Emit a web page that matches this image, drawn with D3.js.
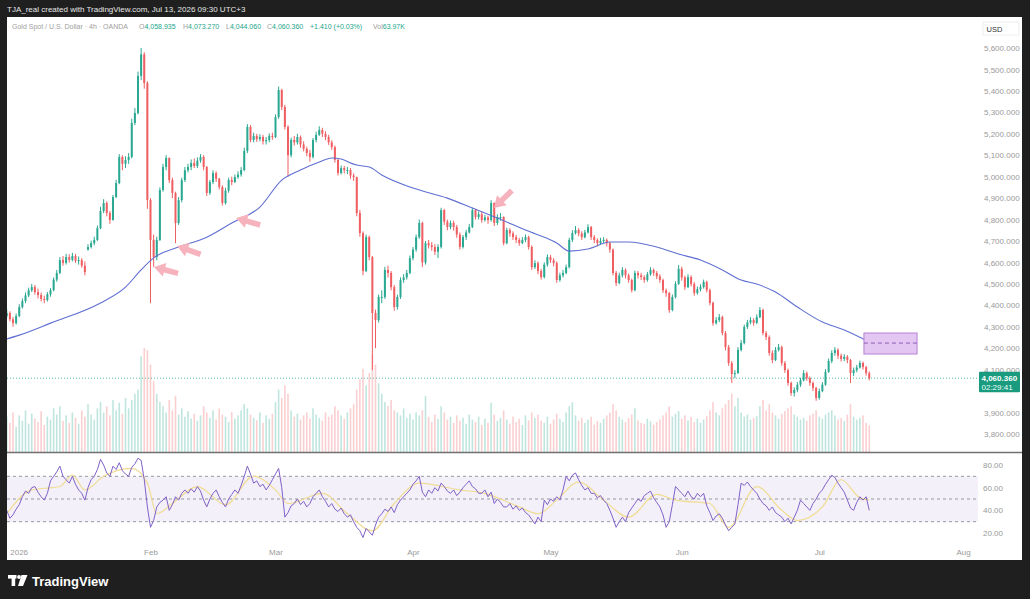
<!DOCTYPE html>
<html><head><meta charset="utf-8">
<script src="https://cdn.jsdelivr.net/npm/d3@7"></script>
<style>
html,body{margin:0;padding:0;background:#1f1f1f;}
svg{display:block;font-family:"Liberation Sans",Arial,sans-serif;}
</style></head><body>
<svg id="c" width="1030" height="599"></svg>
<script>
// ---- DATA (12h bars, bar 0 = Dec 31 2025) ----
const opens=[
4350,4364,4335,4317,4350,4392,4420,4446,4470,4485,
4462,4448,4430,4425,4452,4471,4520,4551,4611,4598,
4625,4612,4630,4608,4611,4585,4660,4672,4690,4705,
4760,4840,4877,4830,4798,4905,4970,5092,5060,5078,
5092,5250,5297,5470,5570,5437,4891,4705,4625,4705,
4938,5045,5087,4984,4924,4784,4891,4984,5030,5045,
5064,5050,5075,5092,5045,4924,4975,5017,4990,4952,
4877,4935,4984,4975,4998,5010,5031,5120,5232,5171,
5190,5175,5185,5165,5171,5190,5185,5278,5404,5325,
5232,5100,5171,5160,5185,5150,5130,5110,5092,5171,
5195,5218,5200,5185,5160,5138,5078,5017,5040,5031,
5031,5005,4998,4830,4737,4560,4718,4625,4364,4331,
4439,4439,4565,4551,4485,4392,4439,4518,4530,4551,
4620,4660,4718,4784,4600,4690,4680,4672,4650,4672,
4844,4790,4765,4784,4765,4730,4672,4718,4740,4765,
4844,4812,4825,4798,4810,4798,4877,4784,4812,4812,
4690,4751,4735,4718,4705,4690,4705,4718,4672,4578,
4597,4560,4532,4590,4625,4610,4597,4518,4540,4551,
4578,4705,4737,4751,4735,4718,4740,4765,4718,4705,
4690,4700,4705,4690,4660,4551,4504,4540,4565,4540,
4518,4471,4551,4540,4532,4518,4545,4565,4551,4535,
4518,4470,4457,4378,4439,4500,4570,4530,4485,4532,
4500,4457,4475,4485,4509,4471,4411,4317,4331,4345,
4271,4205,4131,4080,4084,4192,4224,4299,4320,4331,
4318,4345,4378,4271,4252,4178,4145,4192,4205,4131,
4098,4038,3991,4005,4030,4050,4084,4060,4038,4015,
3968,4000,4030,4090,4140,4178,4192,4165,4150,4160,
4145,4084,4098,4110,4131,4112,4084];
const highs=[
4380,4372,4345,4362,4405,4432,4460,4482,4500,4495,
4478,4460,4445,4462,4480,4530,4565,4625,4630,4640,
4638,4645,4640,4628,4620,4605,4685,4702,4720,4772,
4860,4895,4885,4840,4915,4985,5105,5100,5095,5110,
5270,5320,5490,5600,5580,5445,4900,4730,4720,4950,
5060,5100,5090,4995,4930,4905,4995,5045,5060,5080,
5085,5090,5105,5100,5050,4985,5030,5025,4995,4960,
4948,4995,5000,5010,5025,5045,5135,5245,5240,5205,
5200,5198,5195,5185,5202,5205,5290,5420,5410,5335,
5240,5182,5190,5200,5192,5165,5140,5125,5180,5210,
5235,5228,5212,5195,5170,5145,5085,5052,5050,5045,
5040,5015,5000,4845,4745,4730,4725,4630,4380,4450,
4470,4580,4585,4560,4495,4450,4530,4545,4565,4632,
4672,4730,4800,4790,4700,4705,4695,4685,4685,4855,
4850,4800,4795,4795,4775,4740,4728,4752,4780,4855,
4850,4838,4835,4822,4818,4890,4880,4825,4830,4815,
4762,4760,4745,4728,4715,4718,4730,4725,4680,4610,
4605,4570,4600,4638,4635,4620,4605,4552,4565,4590,
4715,4750,4770,4760,4745,4752,4778,4770,4728,4712,
4715,4718,4712,4695,4665,4560,4552,4578,4572,4548,
4525,4562,4560,4552,4540,4556,4578,4572,4560,4545,
4525,4478,4462,4450,4512,4588,4580,4538,4545,4540,
4508,4488,4498,4520,4515,4478,4418,4345,4360,4352,
4280,4215,4140,4098,4205,4238,4310,4332,4345,4340,
4358,4392,4385,4280,4260,4190,4205,4220,4212,4140,
4105,4045,4018,4042,4062,4098,4092,4068,4045,4020,
4012,4042,4102,4152,4190,4205,4200,4175,4172,4168,
4150,4110,4122,4142,4138,4118,4092];
const lows=[
4340,4325,4300,4310,4345,4385,4410,4438,4462,4450,
4432,4418,4410,4418,4440,4465,4510,4545,4585,4590,
4600,4605,4598,4590,4575,4540,4655,4665,4680,4700,
4755,4830,4815,4780,4795,4900,4965,5030,5040,5060,
5085,5240,5290,5450,5410,4850,4410,4580,4610,4700,
4930,5030,4970,4900,4690,4775,4880,4975,5020,5030,
5040,5040,5065,5030,4910,4915,4965,4975,4940,4865,
4870,4925,4960,4970,4990,5000,5025,5110,5160,5160,
5162,5165,5150,5150,5160,5172,5180,5270,5310,5220,
5000,5090,5145,5150,5135,5118,5095,5070,5085,5160,
5190,5185,5170,5148,5125,5065,5005,5010,5015,5012,
4990,4980,4815,4720,4540,4555,4610,4098,4200,4320,
4410,4430,4530,4470,4375,4380,4430,4505,4520,4545,
4610,4650,4710,4578,4590,4665,4655,4635,4620,4665,
4775,4750,4755,4748,4715,4660,4665,4705,4735,4760,
4800,4800,4785,4790,4780,4790,4770,4775,4795,4680,
4685,4720,4705,4690,4678,4685,4695,4660,4565,4570,
4545,4520,4525,4580,4598,4582,4505,4510,4530,4545,
4572,4695,4730,4722,4705,4712,4735,4705,4690,4675,
4682,4690,4675,4645,4540,4490,4498,4530,4525,4505,
4460,4465,4525,4518,4505,4510,4538,4538,4522,4505,
4458,4440,4365,4372,4432,4495,4515,4472,4480,4488,
4445,4450,4465,4478,4460,4400,4305,4310,4322,4260,
4190,4118,4038,4060,4080,4185,4218,4290,4312,4305,
4312,4340,4260,4238,4165,4130,4140,4185,4118,4085,
4025,3978,3975,3995,4020,4045,4048,4025,4000,3955,
3960,3995,4025,4085,4130,4165,4150,4138,4140,4130,
4038,4070,4088,4105,4100,4072,4050];
const closes=[
4364,4335,4317,4350,4392,4420,4446,4470,4485,4462,
4448,4430,4425,4452,4471,4520,4551,4611,4598,4625,
4612,4630,4608,4611,4585,4555,4672,4690,4705,4760,
4840,4877,4830,4798,4905,4970,5092,5060,5078,5092,
5250,5297,5470,5570,5437,4891,4705,4625,4705,4938,
5045,5087,4984,4924,4784,4891,4984,5030,5045,5064,
5050,5075,5092,5045,4924,4975,5017,4990,4952,4877,
4935,4984,4975,4998,5010,5031,5120,5232,5171,5190,
5175,5185,5165,5171,5190,5185,5278,5404,5325,5232,
5100,5171,5160,5185,5150,5130,5110,5092,5171,5195,
5218,5200,5185,5160,5138,5078,5017,5040,5031,5031,
5005,4998,4830,4737,4560,4718,4625,4364,4331,4439,
4439,4565,4551,4485,4392,4439,4518,4530,4551,4620,
4660,4718,4784,4600,4690,4680,4672,4650,4672,4844,
4790,4765,4784,4765,4730,4672,4718,4740,4765,4844,
4812,4825,4798,4810,4798,4877,4784,4812,4812,4690,
4751,4735,4718,4705,4690,4705,4718,4672,4578,4597,
4560,4532,4590,4625,4610,4597,4518,4540,4551,4578,
4705,4737,4751,4735,4718,4740,4765,4718,4705,4690,
4700,4705,4690,4660,4551,4504,4540,4565,4540,4518,
4471,4551,4540,4532,4518,4545,4565,4551,4535,4518,
4470,4457,4378,4439,4500,4570,4530,4485,4532,4500,
4457,4475,4485,4509,4471,4411,4317,4331,4345,4271,
4205,4131,4080,4084,4192,4224,4299,4320,4331,4318,
4345,4378,4271,4252,4178,4145,4192,4205,4131,4098,
4038,3991,4005,4030,4050,4084,4060,4038,4015,3968,
4000,4030,4090,4140,4178,4192,4165,4150,4160,4145,
4084,4098,4110,4131,4112,4084,4060.36];
const volumes=[
85,70,95,60,88,75,100,68,92,80,
72,98,65,85,78,105,90,110,75,88,
70,95,82,68,100,85,115,90,78,105,
120,95,110,88,125,100,118,92,130,105,
125,140,150,230,250,245,210,170,140,120,
110,95,125,100,135,90,105,85,98,80,
92,75,88,110,95,82,100,78,105,90,
85,72,96,80,88,100,115,105,90,82,
76,95,70,88,80,92,120,150,130,160,
140,100,85,92,78,88,95,80,105,90,
82,75,95,85,90,110,100,88,80,95,
105,115,150,175,200,160,190,235,210,165,
140,120,110,125,100,95,88,105,82,92,
78,95,88,100,135,85,72,90,80,110,
95,78,85,70,88,75,82,68,90,78,
72,85,65,80,70,118,90,75,82,100,
78,68,85,72,80,65,88,76,95,82,
90,75,70,85,68,78,92,80,72,95,
110,120,88,75,82,70,78,85,66,74,
70,80,88,95,115,100,85,78,72,82,
90,105,76,70,68,80,74,66,72,78,
88,95,110,85,92,98,80,88,76,84,
72,80,70,78,86,100,120,95,88,105,
115,125,140,110,130,95,85,90,78,82,
86,110,125,100,115,95,88,80,92,98,
105,110,90,85,78,82,75,88,92,100,
85,80,90,95,100,88,78,82,75,90,
115,85,78,82,88,70,64];
const rsiValues=[
40,33,36,41,45,52,57,55,60,61,
56,52,49,55,66,70,74,79,70,67,
64,70,63,58,55,49,60,67,70,76,
85,80,73,70,79,76,82,75,72,70,
78,81,86,84,67,43,25,31,43,47,
49,52,40,45,52,49,55,58,55,59,
56,61,57,49,43,50,55,58,52,47,
43,50,54,58,55,62,70,79,72,64,
66,61,63,58,62,67,72,77,60,34,
38,44,46,50,45,48,43,46,52,55,
58,52,48,43,46,41,39,42,37,34,
36,30,25,22,16,24,21,18,27,34,
37,41,39,43,38,45,49,52,55,58,
63,66,70,56,52,58,55,60,57,64,
61,57,55,58,53,56,60,63,66,61,
59,55,55,58,52,56,46,50,47,43,
43,46,41,44,40,42,38,36,32,28,
34,30,49,45,50,48,52,49,58,70,
66,71,73,67,62,58,60,55,55,51,
53,49,46,40,33,25,30,34,30,38,
42,46,50,48,53,55,57,51,47,43,
36,25,30,45,61,58,55,52,57,52,
50,55,52,55,44,38,31,35,37,33,
27,22,25,28,45,64,62,65,61,58,
55,50,46,44,40,43,38,36,34,30,
33,28,34,40,49,46,43,40,46,50,
55,58,63,67,71,69,64,60,56,49,
42,40,47,52,49,52,40];
const maBars=[0,4,14,30,38,43,47,55,64,72,81,88,94,100,104,107,110,112,116,120,130,141,149,157,166,176,180,186,193,199,208,215,222,229,235,240,246,253,261,268,276];
const maValues=[4243,4261,4317,4411,4485,4565,4621,4672,4718,4784,4858,4984,5031,5068,5087,5082,5064,5054,5045,5008,4947,4900,4854,4807,4751,4691,4653,4663,4695,4695,4672,4639,4611,4565,4518,4499,4462,4392,4322,4285,4229];
const rsiMaBars=[0,8,17,21,25,31,40,45,48,53,61,70,79,86,90,101,109,117,124,132,145,153,164,170,176,183,191,199,208,214,225,231,240,248,253,261,267,273,276];
const rsiMaValues=[37,58,61,71,58,70,77,64,37,46,61,45,70,58,46,55,37,22,46,64,58,55,43,37,49,65,49,34,54,49,46,25,61,40,31,43,67,51,49];
const monthBars=[3.8,46,86,130,174,216,260,306];
const monthLabels=["2026","Feb","Mar","Apr","May","Jun","Jul","Aug"];
const priceTicks=[3800,3900,4100,4200,4300,4400,4500,4600,4700,4800,4900,5000,5100,5200,5300,5400,5500,5600];
const rsiTicks=[20,40,60,80];
const rsiLevels=[70,50,30];
const lastPrice=4060.36;
const lastPriceText="4,060.360", countdownText="02:29:41";
const arrowBars=[47.1,54.5,73.4,155.9];
const arrowPrices=[4579,4677,4807,4854];
const arrowAngles=[195,200,196,136];
const zoneBars=[274.3,291.3];
const zonePrices=[4173,4271];
const zoneMid=4224;
const headerText="TJA_real created with TradingView.com, Jul 13, 2026 09:30 UTC+3";
const legendTitle="Gold Spot / U.S. Dollar \u00b7 4h \u00b7 OANDA";
const legendKeys=["O","H","L","C","","Vol"];
const legendVals=["4,058.935","4,073.270","4,044.060","4,060.360","+1.410 (+0.03%)","63.97K"];

// ---- LAYOUT ----
const svg=d3.select("#c");
const L=7,R=1022,T=17,B=560,PR=978,PB=452,RT=453,RB=540;
const UP="#2aa892",DN="#ef5f62";
const x=d3.scaleLinear().domain([0,306]).range([6.75,963]);
const y=d3.scaleLinear().domain([3800,5600]).range([434,48]);
const yv=d3.scaleLinear().domain([0,250]).range([PB,348]);
const yr=d3.scaleLinear().domain([20,80]).range([533,465]);

svg.append("rect").attr("width",1030).attr("height",599).attr("fill","#1f1f1f");
svg.append("rect").attr("x",L).attr("y",T).attr("width",R-L).attr("height",B-T).attr("fill","#ffffff");

const defs=svg.append("defs");
defs.append("clipPath").attr("id","cp").append("rect").attr("x",L).attr("y",T).attr("width",PR-L).attr("height",PB-T);
defs.append("clipPath").attr("id","cr").append("rect").attr("x",L).attr("y",RT).attr("width",PR-L).attr("height",RB-RT);

svg.append("text").attr("x",7).attr("y",12).attr("fill","#e6e6e6").attr("font-size",8).text(headerText);

const pane=svg.append("g").attr("clip-path","url(#cp)");
const bars=d3.range(closes.length);
const isUp=i=>closes[i]>=opens[i];

// volume
pane.append("g").selectAll("rect").data(bars).join("rect")
  .attr("x",i=>x(i)-0.8).attr("width",1.6)
  .attr("y",i=>yv(volumes[i])).attr("height",i=>PB-yv(volumes[i]))
  .attr("fill",i=>isUp(i)?UP:DN).attr("opacity",0.3);

// last price dotted
pane.append("line").attr("x1",L).attr("x2",PR).attr("y1",y(lastPrice)).attr("y2",y(lastPrice))
  .attr("stroke",UP).attr("stroke-dasharray","1,2").attr("opacity",0.8);

// candles
const cg=pane.append("g");
cg.selectAll("line").data(bars).join("line")
  .attr("x1",i=>x(i)).attr("x2",i=>x(i)).attr("y1",i=>y(highs[i])).attr("y2",i=>y(lows[i]))
  .attr("stroke",i=>isUp(i)?UP:DN).attr("stroke-width",1);
cg.selectAll("rect").data(bars).join("rect")
  .attr("x",i=>x(i)-1).attr("width",2)
  .attr("y",i=>y(Math.max(opens[i],closes[i])))
  .attr("height",i=>Math.max(1,Math.abs(y(opens[i])-y(closes[i]))))
  .attr("fill",i=>isUp(i)?UP:DN);

// moving average
pane.append("path").datum(maBars)
  .attr("d",d3.line().x(b=>x(b)).y((b,i)=>y(maValues[i])).curve(d3.curveMonotoneX))
  .attr("fill","none").attr("stroke","#5f6fd2").attr("stroke-width",1.1);

// zone box
pane.append("rect").attr("x",x(zoneBars[0])).attr("width",x(zoneBars[1])-x(zoneBars[0]))
  .attr("y",y(zonePrices[1])).attr("height",y(zonePrices[0])-y(zonePrices[1]))
  .attr("fill","#e3c6f1").attr("stroke","#b583d6").attr("stroke-width",1);
pane.append("line").attr("x1",x(zoneBars[0])).attr("x2",x(zoneBars[1])).attr("y1",y(zoneMid)).attr("y2",y(zoneMid))
  .attr("stroke","#8e5cb5").attr("stroke-dasharray","4,3");

// arrows
const arrowShape="M0,0 L-11,-7 L-11,-2.8 L-25,-2.8 L-25,2.8 L-11,2.8 L-11,7 Z";
pane.append("g").selectAll("path").data(arrowBars).join("path")
  .attr("d",arrowShape)
  .attr("transform",(d,i)=>`translate(${x(d)},${y(arrowPrices[i])}) rotate(${arrowAngles[i]})`)
  .attr("fill","#f6b3bd");

// legend
svg.append("text").attr("x",12).attr("y",28.5).attr("font-size",7).attr("fill","#a0a0a0").text(legendTitle);
const legX=[139,183,226,267,310,373];
legendKeys.forEach((k,i)=>{
  const t=svg.append("text").attr("x",legX[i]).attr("y",28.5).attr("font-size",7);
  t.append("tspan").attr("fill","#a0a0a0").text(k);
  t.append("tspan").attr("fill","#22a68a").text(legendVals[i]);
});

// price axis
const pa=svg.append("g").attr("transform",`translate(${PR},0)`)
  .call(d3.axisRight(y).tickValues(priceTicks).tickFormat(d3.format(",.3f")).tickSize(0).tickPadding(6));
pa.select(".domain").remove();
pa.selectAll("text").attr("fill","#9a9a9a").attr("font-size",8).attr("font-family","Liberation Sans, Arial, sans-serif");

// USD box
svg.append("rect").attr("x",983).attr("y",22).attr("width",36).attr("height",13).attr("fill","#fff").attr("stroke","#eeeeee");
svg.append("text").attr("x",986.5).attr("y",31.5).attr("font-size",7.5).attr("fill","#333").text("USD");

// last price label
svg.append("rect").attr("x",979).attr("y",y(lastPrice)-6.5).attr("width",41).attr("height",20.5).attr("fill","#1a9b80").attr("rx",1);
svg.append("text").attr("x",981.5).attr("y",y(lastPrice)+2.5).attr("font-size",8).attr("font-weight","bold").attr("fill","#fff").text(lastPriceText);
svg.append("text").attr("x",981.5).attr("y",y(lastPrice)+11.5).attr("font-size",8).attr("fill","#eafff9").text(countdownText);

// pane separator
svg.append("line").attr("x1",L).attr("x2",R).attr("y1",PB+0.5).attr("y2",PB+0.5).attr("stroke","#707070").attr("stroke-width",1.3);

// RSI pane
const rp=svg.append("g").attr("clip-path","url(#cr)");
rp.append("rect").attr("x",L).attr("width",PR-L).attr("y",yr(rsiLevels[0])).attr("height",yr(rsiLevels[2])-yr(rsiLevels[0]))
  .attr("fill","#7e57c2").attr("opacity",0.09);
rp.selectAll("line.lv").data(rsiLevels).join("line").attr("class","lv")
  .attr("x1",L).attr("x2",PR).attr("y1",d=>yr(d)).attr("y2",d=>yr(d))
  .attr("stroke","#9598a1").attr("stroke-dasharray","3,3").attr("stroke-width",1);
rp.append("path").datum(rsiMaBars)
  .attr("d",d3.line().x(b=>x(b)).y((b,i)=>yr(rsiMaValues[i])).curve(d3.curveMonotoneX))
  .attr("fill","none").attr("stroke","#f0dc92").attr("stroke-width",1.2);
rp.append("path").datum(bars)
  .attr("d",d3.line().x(i=>x(i)).y(i=>yr(rsiValues[i])))
  .attr("fill","none").attr("stroke","#8161c8").attr("stroke-width",1);

const ra=svg.append("g").attr("transform",`translate(${PR},0)`)
  .call(d3.axisRight(yr).tickValues(rsiTicks).tickFormat(d3.format(".2f")).tickSize(0).tickPadding(5));
ra.select(".domain").remove();
ra.selectAll("text").attr("fill","#9a9a9a").attr("font-size",8).attr("font-family","Liberation Sans, Arial, sans-serif");

// time axis
const ta=svg.append("g").attr("transform",`translate(0,${RB+1})`)
  .call(d3.axisBottom(x).tickValues(monthBars).tickFormat((d,i)=>monthLabels[i]).tickSize(0).tickPadding(8));
ta.select(".domain").remove();
ta.selectAll("text").attr("fill","#9a9a9a").attr("font-size",8).attr("font-family","Liberation Sans, Arial, sans-serif");

// footer logo
const lg=svg.append("g").attr("fill","#ffffff");
lg.append("rect").attr("x",8).attr("y",575).attr("width",8.5).attr("height",3.6);
lg.append("rect").attr("x",11.6).attr("y",575).attr("width",3.6).attr("height",11);
lg.append("circle").attr("cx",19).attr("cy",577).attr("r",1.9);
lg.append("path").attr("d","M21.5,575 L27.5,575 L23,586 L18,586 Z");
svg.append("text").attr("x",32).attr("y",585.5).attr("font-size",13).attr("font-weight","bold").attr("fill","#ffffff").text("TradingView");
</script>
</body></html>
